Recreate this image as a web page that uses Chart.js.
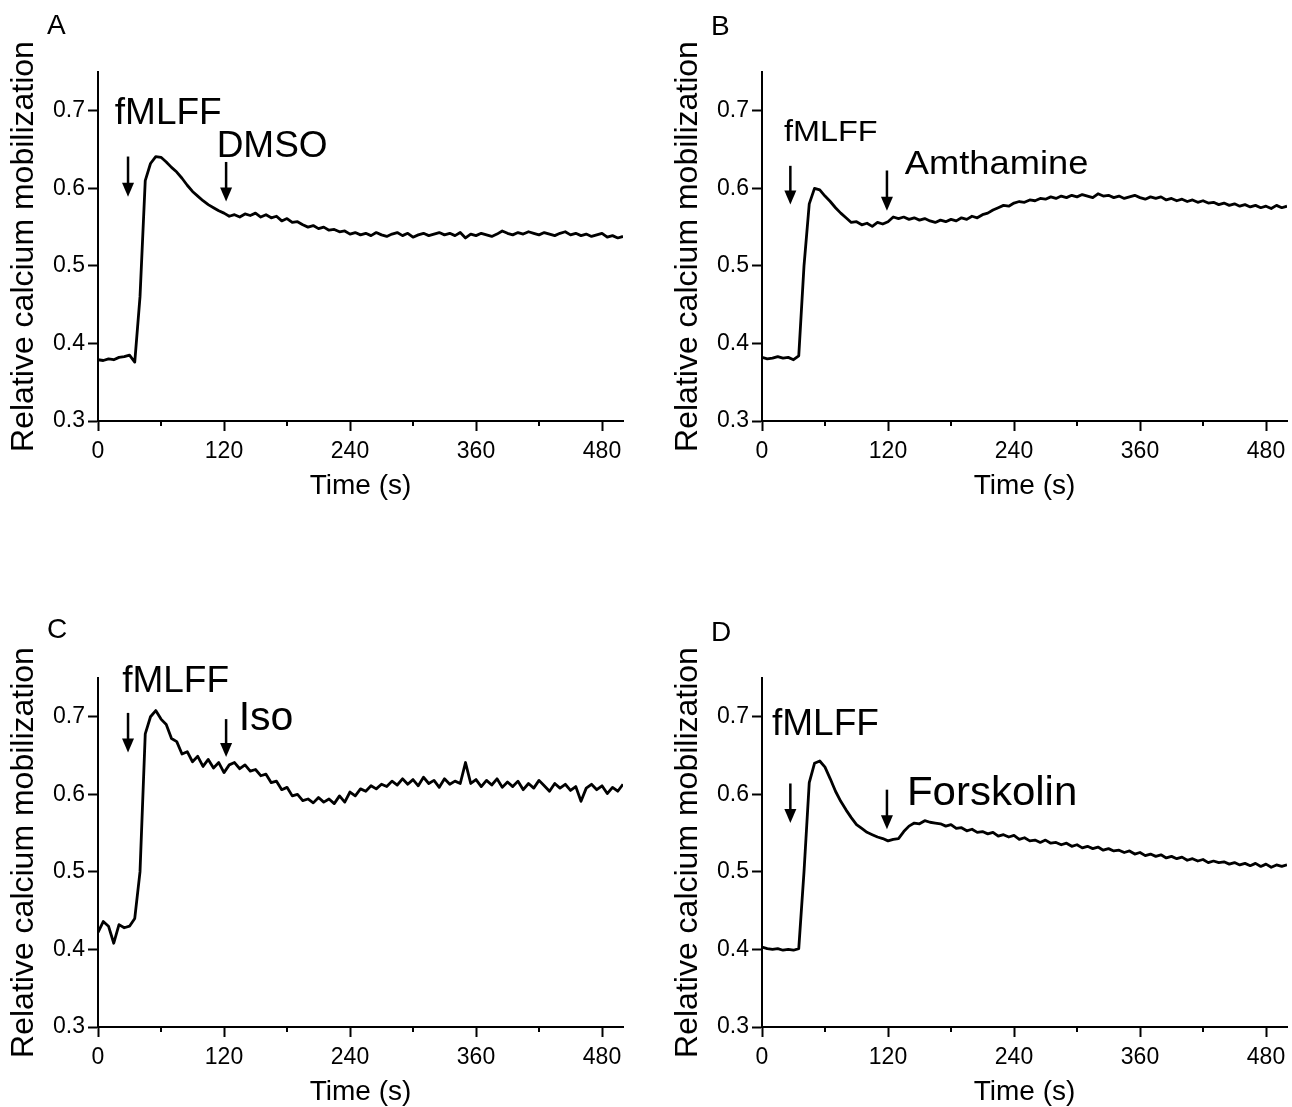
<!DOCTYPE html>
<html>
<head>
<meta charset="utf-8">
<script src="https://cdn.jsdelivr.net/npm/chart.js@4.4.1/dist/chart.umd.min.js"></script>
<style>
  html, body { margin: 0; padding: 0; background: #fff; overflow: hidden; }
  .panel { position: absolute; }
</style>
</head>
<body>
<canvas id="chartA" class="panel" width="632" height="511" style="left:0;top:0"></canvas>
<canvas id="chartB" class="panel" width="632" height="511" style="left:664px;top:0"></canvas>
<canvas id="chartC" class="panel" width="632" height="511" style="left:0;top:606px"></canvas>
<canvas id="chartD" class="panel" width="632" height="511" style="left:664px;top:606px"></canvas>
<script>
// --- data (time in s, relative calcium mobilization) ---
const timeS = [
  0, 5, 10, 15, 20, 25, 30, 35, 40, 45, 50, 55, 60, 65, 70, 75, 80, 85, 90, 95,
  100, 105, 110, 115, 120, 125, 130, 135, 140, 145, 150, 155, 160, 165, 170, 175, 180, 185, 190, 195,
  200, 205, 210, 215, 220, 225, 230, 235, 240, 245, 250, 255, 260, 265, 270, 275, 280, 285, 290, 295,
  300, 305, 310, 315, 320, 325, 330, 335, 340, 345, 350, 355, 360, 365, 370, 375, 380, 385, 390, 395,
  400, 405, 410, 415, 420, 425, 430, 435, 440, 445, 450, 455, 460, 465, 470, 475, 480, 485, 490, 495,
  500
];

const dmsoTrace = [
  0.379, 0.378, 0.380, 0.379, 0.382, 0.383, 0.385, 0.376, 0.460, 0.610, 0.632, 0.641, 0.640, 0.634, 0.627, 0.621, 0.613, 0.604, 0.596, 0.590,
  0.584, 0.579, 0.575, 0.571, 0.568, 0.564, 0.566, 0.563, 0.567, 0.565, 0.568, 0.563, 0.566, 0.562, 0.564, 0.558, 0.561, 0.556, 0.557, 0.553,
  0.550, 0.552, 0.548, 0.550, 0.546, 0.547, 0.544, 0.545, 0.541, 0.543, 0.540, 0.542, 0.539, 0.543, 0.540, 0.538, 0.541, 0.543, 0.539, 0.542,
  0.537, 0.540, 0.542, 0.539, 0.541, 0.543, 0.540, 0.542, 0.539, 0.543, 0.536, 0.541, 0.539, 0.542, 0.540, 0.538, 0.541, 0.545, 0.542, 0.540,
  0.543, 0.541, 0.544, 0.542, 0.540, 0.543, 0.541, 0.539, 0.542, 0.544, 0.540, 0.542, 0.539, 0.541, 0.538, 0.540, 0.542, 0.537, 0.539, 0.536,
  0.538
];

const amthamineTrace = [
  0.382, 0.380, 0.381, 0.383, 0.381, 0.382, 0.379, 0.384, 0.500, 0.580, 0.600, 0.598, 0.590, 0.583, 0.575, 0.568, 0.562, 0.556, 0.557, 0.553,
  0.555, 0.551, 0.556, 0.554, 0.557, 0.563, 0.561, 0.563, 0.560, 0.562, 0.559, 0.561, 0.558, 0.556, 0.559, 0.557, 0.560, 0.558, 0.562, 0.560,
  0.564, 0.562, 0.566, 0.568, 0.572, 0.575, 0.578, 0.577, 0.581, 0.583, 0.582, 0.585, 0.584, 0.587, 0.586, 0.589, 0.587, 0.590, 0.588, 0.591,
  0.589, 0.592, 0.590, 0.588, 0.593, 0.590, 0.591, 0.588, 0.590, 0.587, 0.589, 0.591, 0.588, 0.586, 0.589, 0.587, 0.589, 0.585, 0.587, 0.584,
  0.586, 0.583, 0.585, 0.582, 0.584, 0.581, 0.582, 0.579, 0.581, 0.578, 0.580, 0.577, 0.579, 0.576, 0.578, 0.575, 0.577, 0.574, 0.578, 0.575,
  0.577
];

const isoTrace = [
  0.422, 0.436, 0.430, 0.408, 0.432, 0.428, 0.430, 0.440, 0.500, 0.678, 0.700, 0.708, 0.697, 0.690, 0.672, 0.668, 0.652, 0.655, 0.642, 0.649,
  0.636, 0.645, 0.634, 0.641, 0.628, 0.638, 0.641, 0.633, 0.638, 0.630, 0.632, 0.624, 0.626, 0.615, 0.617, 0.606, 0.609, 0.598, 0.600, 0.592,
  0.594, 0.589, 0.596, 0.590, 0.594, 0.588, 0.598, 0.590, 0.603, 0.598, 0.607, 0.604, 0.611, 0.607, 0.613, 0.610, 0.617, 0.612, 0.620, 0.613,
  0.619, 0.611, 0.622, 0.614, 0.618, 0.609, 0.620, 0.613, 0.617, 0.614, 0.641, 0.614, 0.619, 0.610, 0.618, 0.612, 0.620, 0.609, 0.616, 0.610,
  0.617, 0.606, 0.614, 0.608, 0.618, 0.611, 0.604, 0.614, 0.608, 0.613, 0.605, 0.610, 0.591, 0.608, 0.613, 0.606, 0.611, 0.601, 0.609, 0.604,
  0.613
];

const forskolinTrace = [
  0.403, 0.401, 0.400, 0.401, 0.399, 0.400, 0.399, 0.401, 0.500, 0.615, 0.640, 0.643, 0.635, 0.620, 0.604, 0.591, 0.580, 0.570, 0.561, 0.556,
  0.551, 0.548, 0.545, 0.543, 0.540, 0.542, 0.543, 0.552, 0.559, 0.563, 0.562, 0.566, 0.564, 0.563, 0.562, 0.559, 0.561, 0.556, 0.557, 0.553,
  0.555, 0.551, 0.552, 0.549, 0.551, 0.546, 0.548, 0.545, 0.547, 0.542, 0.544, 0.540, 0.541, 0.538, 0.541, 0.537, 0.538, 0.535, 0.537, 0.533,
  0.535, 0.531, 0.533, 0.530, 0.532, 0.528, 0.530, 0.527, 0.528, 0.525, 0.527, 0.523, 0.525, 0.521, 0.523, 0.520, 0.522, 0.518, 0.520, 0.517,
  0.519, 0.515, 0.517, 0.514, 0.516, 0.512, 0.514, 0.512, 0.513, 0.510, 0.512, 0.509, 0.511, 0.508, 0.511, 0.507, 0.510, 0.506, 0.509, 0.507,
  0.509
];

const xTickStep = 60;      // labelled every 120 s, minor ticks in between
const xLabelStep = 120;
const yTickStep = 0.1;
const xRange = [0, 500];
const yRange = [0.3, 0.75];

const FONT = '"Liberation Sans", Arial, Helvetica, sans-serif';

// arrows and treatment labels, in data units
const panels = [
  {
    id: 'chartA', letter: 'A', letterY: 34, trace: dmsoTrace,
    arrows: [{ t: 28.6, from: 0.641, to: 0.589 }, { t: 122, from: 0.634, to: 0.583 }],
    labels: [
      { text: 'fMLFF', t: 16, y: 0.683, size: 37 },
      { text: 'DMSO', t: 113, y: 0.641, size: 37 }
    ]
  },
  {
    id: 'chartB', letter: 'B', letterY: 35, trace: amthamineTrace,
    arrows: [{ t: 27, from: 0.629, to: 0.579 }, { t: 119, from: 0.623, to: 0.571 }],
    labels: [
      { text: 'fMLFF', t: 21, y: 0.661, size: 30, stretch: 1.08 },
      { text: 'Amthamine', t: 136, y: 0.619, size: 33, stretch: 1.1 }
    ]
  },
  {
    id: 'chartC', letter: 'C', letterY: 32, trace: isoTrace,
    arrows: [{ t: 28.6, from: 0.705, to: 0.654 }, { t: 122, from: 0.697, to: 0.648 }],
    labels: [
      { text: 'fMLFF', t: 23, y: 0.732, size: 37 },
      { text: 'Iso', t: 134, y: 0.683, size: 41 }
    ]
  },
  {
    id: 'chartD', letter: 'D', letterY: 35, trace: forskolinTrace,
    arrows: [{ t: 27, from: 0.614, to: 0.563 }, { t: 119, from: 0.606, to: 0.555 }],
    labels: [
      { text: 'fMLFF', t: 9.5, y: 0.677, size: 37 },
      { text: 'Forskolin', t: 138, y: 0.586, size: 40, stretch: 1.05 }
    ]
  }
];

// draws minor ticks, arrows, treatment labels and the panel letter
const panelMarks = {
  id: 'panelMarks',
  afterDraw(chart, args, opts) {
    const { ctx, chartArea } = chart;
    const x = chart.scales.x;
    const y = chart.scales.y;
    ctx.save();
    ctx.fillStyle = '#000';
    ctx.strokeStyle = '#000';
    ctx.lineWidth = 2;

    x.ticks.forEach(tk => {
      if (tk.value % xLabelStep === 0) return;
      const px = Math.round(x.getPixelForValue(tk.value));
      ctx.beginPath();
      ctx.moveTo(px, chartArea.bottom);
      ctx.lineTo(px, chartArea.bottom + 5);
      ctx.stroke();
    });

    ctx.lineWidth = 2.5;
    opts.arrows.forEach(a => {
      const px = x.getPixelForValue(a.t);
      const top = y.getPixelForValue(a.from);
      const tip = y.getPixelForValue(a.to);
      ctx.beginPath();
      ctx.moveTo(px, top);
      ctx.lineTo(px, tip - 10);
      ctx.stroke();
      ctx.beginPath();
      ctx.moveTo(px - 6, tip - 14);
      ctx.lineTo(px + 6, tip - 14);
      ctx.lineTo(px, tip);
      ctx.closePath();
      ctx.fill();
    });

    ctx.textBaseline = 'alphabetic';
    opts.labels.forEach(l => {
      ctx.save();
      ctx.font = l.size + 'px ' + FONT;
      ctx.translate(x.getPixelForValue(l.t), y.getPixelForValue(l.y));
      ctx.scale(l.stretch || 1, 1);
      ctx.fillText(l.text, 0, 0);
      ctx.restore();
    });

    ctx.font = '28px ' + FONT;
    ctx.fillText(opts.letter, 47, opts.letterY);
    ctx.restore();
  }
};

const makeChart = (p) => {
  const ctx = document.getElementById(p.id);
  return new Chart(ctx, {
    type: 'line',
    data: {
      datasets: [{
        data: timeS.map((t, i) => ({ x: t, y: p.trace[i] })),
        borderColor: '#000',
        borderWidth: 2.8,
        borderJoinStyle: 'round',
        pointRadius: 0,
        tension: 0,
        fill: false
      }]
    },
    options: {
      responsive: false,
      animation: false,
      devicePixelRatio: 1,
      layout: { padding: { top: 72, right: 9, bottom: 0, left: 0 } },
      scales: {
        x: {
          type: 'linear',
          min: xRange[0],
          max: xRange[1],
          afterFit: (scale) => { scale.height = 90; },
          border: { display: true, color: '#000', width: 2 },
          grid: {
            drawOnChartArea: false,
            drawTicks: true,
            tickLength: 10,
            tickWidth: 2,
            tickColor: (c) => (c.tick && c.tick.value % xLabelStep === 0 ? '#000' : 'rgba(0,0,0,0)')
          },
          ticks: {
            stepSize: xTickStep,
            includeBounds: false,
            autoSkip: false,
            maxRotation: 0,
            padding: 7,
            color: '#000',
            font: { family: FONT, size: 23 },
            callback: (v) => (v % xLabelStep === 0 ? String(v) : '')
          },
          title: {
            display: true,
            text: 'Time (s)',
            color: '#000',
            font: { family: FONT, size: 28 },
            padding: { top: 0, bottom: 8 }
          }
        },
        y: {
          min: yRange[0],
          max: yRange[1],
          afterFit: (scale) => { scale.width = 98; },
          border: { display: true, color: '#000', width: 2 },
          grid: {
            drawOnChartArea: false,
            drawTicks: true,
            tickLength: 10,
            tickWidth: 2,
            tickColor: '#000'
          },
          ticks: {
            stepSize: yTickStep,
            includeBounds: false,
            padding: 3,
            color: '#000',
            font: { family: FONT, size: 23 },
            callback: (v) => Number(v).toFixed(1)
          },
          title: {
            display: true,
            text: 'Relative calcium mobilization',
            color: '#000',
            font: { family: FONT, size: 32 },
            padding: { top: 5, bottom: 0 }
          }
        }
      },
      plugins: {
        legend: { display: false },
        tooltip: { enabled: false },
        panelMarks: { arrows: p.arrows, labels: p.labels, letter: p.letter, letterY: p.letterY }
      }
    },
    plugins: [panelMarks]
  });
};

panels.forEach(makeChart);
</script>
</body>
</html>
